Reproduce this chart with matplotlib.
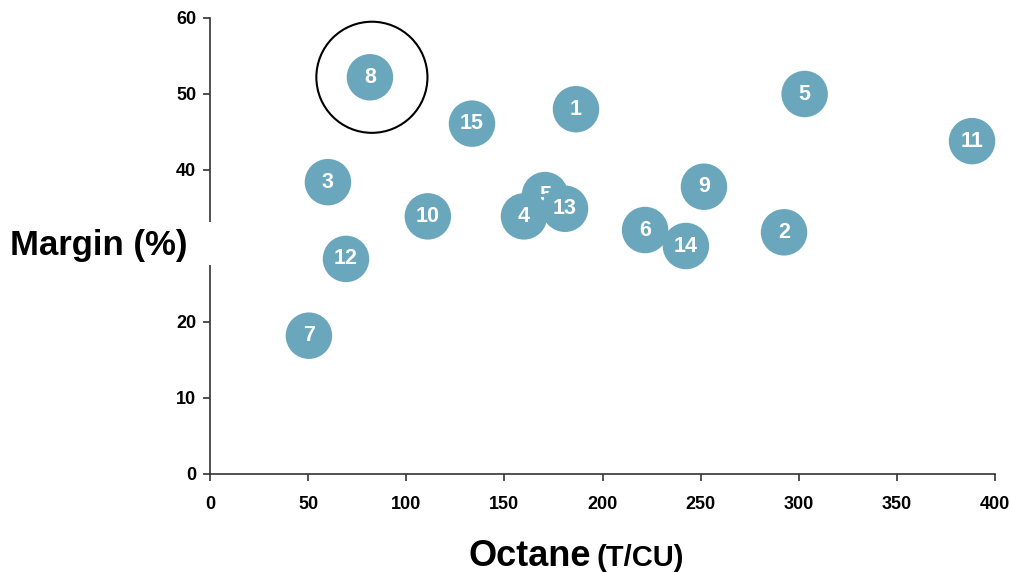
import matplotlib
matplotlib.use("Agg")
import matplotlib.pyplot as plt
from matplotlib.patches import Rectangle
from matplotlib import font_manager

names = {f.name for f in font_manager.fontManager.ttflist}
narrow = "Liberation Sans Narrow" if "Liberation Sans Narrow" in names else "Liberation Sans"
plt.rcParams['font.family'] = ['Liberation Sans', 'DejaVu Sans']

labels = ["8", "1", "5", "15", "11", "3", "9", "10", "5", "4", "13", "6", "14", "2", "12", "7"]
octane = [81.5, 186.5, 303, 133.5, 388.3, 60.1, 251.7, 111, 170.7, 160, 180.9, 221.7, 242.5, 292.5, 69.3, 50.4]
margin = [52.2, 48.0, 50.0, 46.1, 43.8, 38.4, 37.8, 33.9, 36.7, 33.9, 34.9, 32.1, 30.0, 31.8, 28.3, 18.2]
highlight = "8"
xticks = [0, 50, 100, 150, 200, 250, 300, 350, 400]
yticks = [0, 10, 20, 30, 40, 50, 60]
ytick_labels = ["0", "10", "20", "", "40", "50", "60"]

W, H = 1010, 572
fig = plt.figure(figsize=(W / 100, H / 100), dpi=100)
ax = fig.add_axes([210 / W, (H - 474) / H, (995 - 210) / W, (474 - 18) / H])
ax.set_xlim(0, 400)
ax.set_ylim(0, 60)
for s in ("top", "right"):
    ax.spines[s].set_visible(False)
for s in ("left", "bottom"):
    ax.spines[s].set_color("#333333")
    ax.spines[s].set_linewidth(1.2)

color = "#6AA7BC"
for i, (lab, x, y) in enumerate(zip(labels, octane, margin)):
    ax.scatter([x], [y], s=1120, color=color, edgecolors="none", zorder=3 + 2 * i, clip_on=False)
    ax.text(x, y, lab, color="white", fontsize=15.5, fontweight="bold", ha="center", va="center",
            zorder=4 + 2 * i)
    if lab == highlight and i == 0:
        ax.scatter([x + 1], [y], s=6400, facecolors="none", edgecolors="black", linewidths=1.5,
                   zorder=2, clip_on=False)

ax.set_xticks(xticks)
ax.set_yticks(yticks)
ax.set_yticklabels(ytick_labels)
ax.tick_params(axis="both", direction="out", length=5, width=1.2, color="#333333")
for t in ax.get_xticklabels() + ax.get_yticklabels():
    t.set_fontfamily([narrow, 'DejaVu Sans'])
    t.set_fontweight("bold")
    t.set_fontsize(13)
    t.set_fontstretch("condensed")
ax.tick_params(axis="x", pad=11)
ax.tick_params(axis="y", pad=5)

# gap in y axis behind the label
fig.patches.append(Rectangle((200 / W, (H - 265) / H), 20 / W, 43 / H, transform=fig.transFigure,
                             facecolor="white", edgecolor="none", zorder=10))

fig.text(10 / W, (H - 245) / H, "Margin (%)", fontsize=25, fontweight="bold", ha="left", va="center")
fig.text(591 / W, (H - 566) / H, "Octane", fontsize=26, fontweight="bold", ha="right", va="baseline")
fig.text(596 / W, (H - 566) / H, "(T/CU)", fontsize=21, fontweight="bold", ha="left", va="baseline")

fig.savefig("out.png", dpi=100)
